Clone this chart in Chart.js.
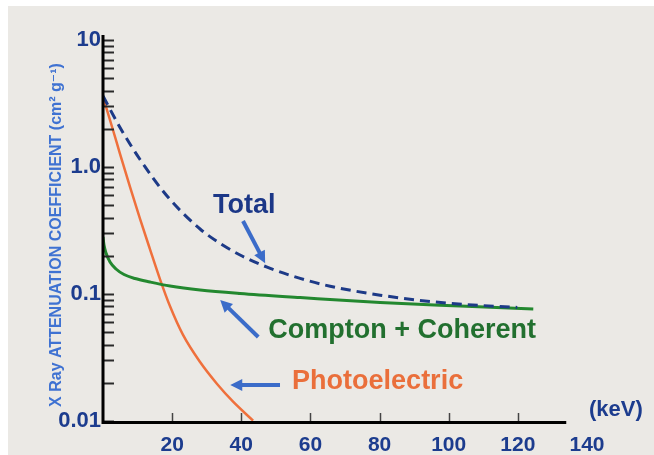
<!DOCTYPE html>
<html>
<head>
<meta charset="utf-8">
<script src="https://cdn.jsdelivr.net/npm/chart.js@4.4.1/dist/chart.umd.min.js"></script>
<style>
    html, body { margin: 0; padding: 0; background: #ffffff; }
    #wrap { width: 654px; height: 455px; }
</style>
</head>
<body>
<div id="wrap"><canvas id="attenChart" width="654" height="455"></canvas></div>
<script>
// Attenuation coefficient vs photon energy (log y axis)
const energyTotal = [0, 4.92, 10.71, 18.52, 28.08, 33.86, 39.65, 47.47, 57.02, 65.70, 80.17, 99.57, 119.83];
const totalCoeff = [3.624, 2.046, 1.146, 0.591, 0.325, 0.2503, 0.2028, 0.1626, 0.1327, 0.1152, 0.0979, 0.0847, 0.0784];

const energyCompton = [0, 0.29, 0.87, 2.03, 3.76, 6.08, 9.26, 13.60, 19.39, 28.08, 39.65, 57.02, 80.17, 103.33, 124.46];
const comptonCoeff = [0.2811, 0.2431, 0.2102, 0.1786, 0.1574, 0.1424, 0.1324, 0.1243, 0.1156, 0.1075, 0.1009, 0.0938, 0.0857, 0.0804, 0.0762];

const energyPhoto = [0, 2.89, 4.92, 7.81, 10.71, 13.60, 16.50, 19.39, 23.15, 28.08, 33.0, 37.63, 43.42];
const photoCoeff = [3.557, 1.956, 1.270, 0.698, 0.391, 0.2249, 0.1305, 0.0800, 0.0476, 0.0291, 0.01956, 0.01419, 0.01006];

const xTickValues = [20, 40, 60, 80, 100, 120, 140];
const yTickValues = [0.01, 0.1, 1, 10];
const yTickLabels = ['0.01', '0.1', '1.0', '10'];

const FONT = "'Liberation Sans', Arial, 'DejaVu Sans', sans-serif";
const TICK_BLUE = '#1c3c8e';

// curve labels and their pointer arrows, in data units
const notes = [
    { text: 'Total', x: 31.8, y: 0.493, color: '#1b3787' },
    { text: 'Compton + Coherent', x: 47.8, y: 0.0512, color: '#22702f' },
    { text: 'Photoelectric', x: 54.7, y: 0.0203, color: '#ea6f3b' }
];
const arrows = [
    { from: [40.5, 0.376], to: [46.9, 0.175] },
    { from: [44.9, 0.0459], to: [33.9, 0.0897] },
    { from: [51.2, 0.0192], to: [36.8, 0.0192] }
];

function toPoints(xs, ys) {
    return xs.map((x, i) => ({ x: x, y: ys[i] }));
}

function drawArrow(ctx, x1, y1, x2, y2) {
    const ang = Math.atan2(y2 - y1, x2 - x1);
    const head = 12;
    ctx.save();
    ctx.strokeStyle = '#3b6cc9';
    ctx.fillStyle = '#3b6cc9';
    ctx.lineWidth = 4;
    ctx.beginPath();
    ctx.moveTo(x1, y1);
    ctx.lineTo(x2 - Math.cos(ang) * head * 0.8, y2 - Math.sin(ang) * head * 0.8);
    ctx.stroke();
    ctx.beginPath();
    ctx.moveTo(x2, y2);
    ctx.lineTo(x2 - head * Math.cos(ang) + 6 * Math.sin(ang), y2 - head * Math.sin(ang) - 6 * Math.cos(ang));
    ctx.lineTo(x2 - head * Math.cos(ang) - 6 * Math.sin(ang), y2 - head * Math.sin(ang) + 6 * Math.cos(ang));
    ctx.closePath();
    ctx.fill();
    ctx.restore();
}

const decorPlugin = {
    id: 'decor',
    beforeDraw(chart) {
        const ctx = chart.ctx;
        ctx.save();
        ctx.fillStyle = '#ffffff';
        ctx.fillRect(0, 0, chart.width, chart.height);
        ctx.fillStyle = '#ebe9e5';
        ctx.fillRect(8, 6, chart.width - 8, chart.height - 6);
        ctx.restore();
    },
    afterDatasetsDraw(chart) {
        const ctx = chart.ctx;
        const xs = chart.scales.x;
        const ys = chart.scales.y;
        const area = chart.chartArea;
        const axisEnd = xs.getPixelForValue(134);

        ctx.save();
        // minor/major ticks on the y axis, pointing inward
        ctx.strokeStyle = '#2a2a2a';
        ctx.lineWidth = 2;
        ys.ticks.forEach(t => {
            const py = Math.round(ys.getPixelForValue(t.value)) + 0.5;
            ctx.beginPath();
            ctx.moveTo(area.left, py);
            ctx.lineTo(area.left + 11, py);
            ctx.stroke();
        });
        // ticks on the x axis
        ctx.lineWidth = 1.5;
        ctx.strokeStyle = '#444444';
        xs.ticks.forEach(t => {
            const px = Math.round(xs.getPixelForValue(t.value)) + 0.5;
            if (px > axisEnd - 4) return;
            ctx.beginPath();
            ctx.moveTo(px, area.bottom);
            ctx.lineTo(px, area.bottom - 8);
            ctx.stroke();
        });
        // axis lines
        ctx.strokeStyle = '#000000';
        ctx.lineWidth = 3;
        ctx.beginPath();
        ctx.moveTo(area.left, area.top - 5);
        ctx.lineTo(area.left, area.bottom + 1.5);
        ctx.lineTo(axisEnd, area.bottom + 1.5);
        ctx.stroke();

        // unit label at the end of the x axis
        ctx.fillStyle = TICK_BLUE;
        ctx.font = 'bold 22px ' + FONT;
        ctx.textAlign = 'left';
        ctx.textBaseline = 'middle';
        ctx.fillText('(keV)', area.right + 2, area.bottom - 11);

        // y axis title
        ctx.save();
        ctx.translate(57, 235);
        ctx.rotate(-Math.PI / 2);
        ctx.fillStyle = '#3f72d2';
        ctx.font = 'bold 16px ' + FONT;
        ctx.textAlign = 'center';
        ctx.fillText('X Ray ATTENUATION COEFFICIENT (cm\u00B2 g\u207B\u00B9)', 0, 0);
        ctx.restore();

        // curve labels
        ctx.font = 'bold 27px ' + FONT;
        ctx.textAlign = 'left';
        notes.forEach(n => {
            ctx.fillStyle = n.color;
            ctx.fillText(n.text, xs.getPixelForValue(n.x), ys.getPixelForValue(n.y));
        });
        arrows.forEach(a => {
            drawArrow(ctx,
                xs.getPixelForValue(a.from[0]), ys.getPixelForValue(a.from[1]),
                xs.getPixelForValue(a.to[0]), ys.getPixelForValue(a.to[1]));
        });
        ctx.restore();
    }
};

const canvas = document.getElementById('attenChart');
new Chart(canvas, {
    type: 'line',
    data: {
        datasets: [
            {
                label: 'Total',
                data: toPoints(energyTotal, totalCoeff),
                borderColor: '#1d3a87',
                borderWidth: 3,
                borderDash: [10, 6],
                pointRadius: 0,
                cubicInterpolationMode: 'monotone'
            },
            {
                label: 'Compton + Coherent',
                data: toPoints(energyCompton, comptonCoeff),
                borderColor: '#23882f',
                borderWidth: 3,
                pointRadius: 0,
                cubicInterpolationMode: 'monotone'
            },
            {
                label: 'Photoelectric',
                data: toPoints(energyPhoto, photoCoeff),
                borderColor: '#ef703c',
                borderWidth: 2.5,
                pointRadius: 0,
                cubicInterpolationMode: 'monotone'
            }
        ]
    },
    options: {
        responsive: false,
        animation: false,
        events: [],
        layout: {
            padding: { left: 0, top: 40, right: 67, bottom: 0 }
        },
        plugins: {
            legend: { display: false },
            tooltip: { enabled: false }
        },
        scales: {
            x: {
                type: 'linear',
                min: 0,
                max: 140,
                border: { display: false },
                grid: { display: false, drawTicks: false },
                afterBuildTicks: (scale) => {
                    scale.ticks = xTickValues.map(v => ({ value: v }));
                },
                afterFit: (scale) => { scale.height = 34; },
                ticks: {
                    padding: 12,
                    color: TICK_BLUE,
                    font: { family: FONT, size: 21, weight: 'bold' },
                    maxRotation: 0,
                    autoSkip: false
                }
            },
            y: {
                type: 'logarithmic',
                min: 0.01,
                max: 10,
                border: { display: false },
                grid: { display: false, drawTicks: false },
                afterBuildTicks: (scale) => {
                    // every 1..9 multiple per decade; only decades get a label
                    const list = [];
                    yTickValues.forEach((d, i) => {
                        list.push({ value: d });
                        if (i < yTickValues.length - 1) {
                            for (let m = 2; m <= 9; m++) list.push({ value: d * m });
                        }
                    });
                    scale.ticks = list;
                },
                afterFit: (scale) => { scale.width = 103; },
                ticks: {
                    padding: 2,
                    color: TICK_BLUE,
                    font: { family: FONT, size: 22, weight: 'bold' },
                    autoSkip: false,
                    callback: (value) => {
                        const i = yTickValues.findIndex(v => Math.abs(v - value) < v * 1e-6);
                        return i >= 0 ? yTickLabels[i] : '';
                    }
                }
            }
        }
    },
    plugins: [decorPlugin]
});
</script>
</body>
</html>
